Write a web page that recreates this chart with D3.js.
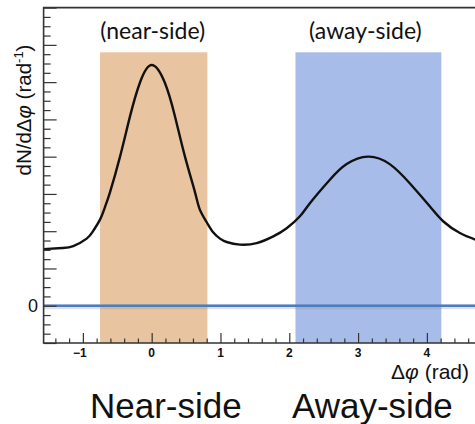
<!DOCTYPE html>
<html>
<head>
<meta charset="utf-8">
<script src="https://cdn.jsdelivr.net/npm/d3@7"></script>
<style>
  html, body { margin: 0; padding: 0; background: #fff; }
  svg { display: block; }
</style>
</head>
<body>
<svg id="chart" width="475" height="424"></svg>
<script>
// Azimuthal correlation: Δφ in rad, dN/dΔφ in arbitrary units
const phiValues   = [-1.571, -1.30, -1.14, -0.945, -0.849, -0.751, -0.68, -0.605, -0.46, -0.315, -0.17, 0.0, 0.19, 0.339, 0.484, 0.629, 0.70, 0.80, 0.89, 0.993, 1.09, 1.283, 1.526, 1.767, 1.962, 2.155, 2.30, 2.59, 2.834, 3.142, 3.46, 3.754, 4.045, 4.24, 4.48, 4.712];
const yieldValues = [1.52, 1.55, 1.60, 1.80, 2.01, 2.31, 2.64, 3.05, 4.00, 5.08, 5.99, 6.46, 5.99, 5.08, 4.00, 3.05, 2.58, 2.24, 1.98, 1.80, 1.71, 1.64, 1.68, 1.86, 2.08, 2.40, 2.75, 3.38, 3.80, 4.00, 3.80, 3.28, 2.66, 2.26, 1.95, 1.77];

// Integration windows
const regionNames  = ["(near-side)", "(away-side)"];
const regionLow    = [-0.75, 2.09];
const regionHigh   = [0.81, 4.21];
const regionTop    = 6.8;
const regionColors = ["#e9c4a1", "#a8bcea"];

// Axis ticks
const xTickLabels = [-1, 0, 1, 2, 3, 4];
const yTickLabels = [0];
const xDomain = [-Math.PI / 2, 3 * Math.PI / 2];
const yDomain = [-1, 8];

const svg = d3.select("#chart");
const padL = 43.6, padR = 475.9, padT = 7.6, padB = 343;

const x = d3.scaleLinear().domain(xDomain).range([padL, padR]);
const y = d3.scaleLinear().domain(yDomain).range([padB, padT]);

// shaded windows
svg.append("g").selectAll("rect")
  .data(regionLow)
  .join("rect")
  .attr("x", (d) => x(d))
  .attr("y", y(regionTop))
  .attr("width", (d, i) => x(regionHigh[i]) - x(d))
  .attr("height", (d) => y(yDomain[0]) - y(regionTop))
  .attr("fill", (d, i) => regionColors[i]);

svg.append("g").selectAll("text")
  .data(regionNames)
  .join("text")
  .attr("x", (d, i) => (x(regionLow[i]) + x(regionHigh[i])) / 2 + (i === 0 ? -1 : -3))
  .attr("y", 39)
  .attr("text-anchor", "middle")
  .attr("font-family", "Lato, 'Open Sans', sans-serif")
  .attr("font-size", 23)
  .attr("fill", "#111")
  .text((d) => d);

// zero baseline
svg.append("line")
  .attr("x1", x(xDomain[0])).attr("x2", x(xDomain[1]))
  .attr("y1", y(0) + 1).attr("y2", y(0) + 1)
  .attr("stroke", "#888").attr("stroke-opacity", 0.25).attr("stroke-width", 5);
svg.append("line")
  .attr("x1", x(xDomain[0])).attr("x2", x(xDomain[1]))
  .attr("y1", y(0)).attr("y2", y(0))
  .attr("stroke", "#4a7ec4").attr("stroke-width", 2.4);

// correlation curve
const pts = phiValues.map((p, i) => [p, yieldValues[i]]);
svg.append("path")
  .datum(pts)
  .attr("fill", "none")
  .attr("stroke", "#111")
  .attr("stroke-width", 2.4)
  .attr("d", d3.line().x((d) => x(d[0])).y((d) => y(d[1])).curve(d3.curveNatural));

// axes (ROOT-style inward ticks)
const xMinor = d3.range(-1.4, 4.71, 0.2).map((v) => +v.toFixed(2)).filter((v) => Math.abs(v - Math.round(v)) > 1e-6);
const xAxisMajor = d3.axisTop(x).tickValues(xTickLabels).tickSize(10).tickFormat("");
const xAxisMinor = d3.axisTop(x).tickValues(xMinor).tickSize(4.5).tickFormat("");
const gxM = svg.append("g").attr("transform", `translate(0,${padB})`).call(xAxisMajor);
const gxm = svg.append("g").attr("transform", `translate(0,${padB})`).call(xAxisMinor);

const yMajorVals = d3.range(-1, 9, 1);
const yMinorVals = d3.range(-1, 8.01, 0.25).filter((v) => Math.abs(v - Math.round(v)) > 1e-6);
const gyM = svg.append("g").attr("transform", `translate(${padL},0)`).call(d3.axisRight(y).tickValues(yMajorVals).tickSize(13).tickFormat(""));
const gym = svg.append("g").attr("transform", `translate(${padL},0)`).call(d3.axisRight(y).tickValues(yMinorVals).tickSize(7).tickFormat(""));

[gxM, gxm, gyM, gym].forEach((g) => {
  g.select(".domain").remove();
  g.selectAll(".tick line").attr("stroke", "#333").attr("stroke-width", 1.2);
});

// frame lines
svg.append("path")
  .attr("d", `M${padR},${padT}H${padL}V${padB}H${padR}`)
  .attr("fill", "none").attr("stroke", "#333").attr("stroke-width", 1.6);

// tick labels
svg.append("g").selectAll("text")
  .data(xTickLabels)
  .join("text")
  .attr("x", (d) => x(d) + (d < 0 ? -3 : 0))
  .attr("y", 357)
  .attr("text-anchor", "middle")
  .attr("font-family", "'Liberation Sans', Arial, sans-serif")
  .attr("font-weight", "bold")
  .attr("font-size", 12)
  .attr("fill", "#111")
  .text((d) => d < 0 ? "\u2212" + Math.abs(d) : d);

svg.append("g").selectAll("text")
  .data(yTickLabels)
  .join("text")
  .attr("x", 38)
  .attr("y", y(0) + 6.5)
  .attr("text-anchor", "end")
  .attr("font-family", "'Liberation Sans', Arial, sans-serif")
  .attr("font-size", 18)
  .attr("fill", "#111")
  .text((d) => d);

// axis titles
const xt = svg.append("text")
  .attr("x", 469).attr("y", 379)
  .attr("text-anchor", "end")
  .attr("font-family", "'Liberation Sans', Arial, sans-serif")
  .attr("font-size", 21)
  .attr("fill", "#111");
xt.append("tspan").text("\u0394");
xt.append("tspan").attr("font-style", "italic").text("\u03c6");
xt.append("tspan").text(" (rad)");

const yt = svg.append("text")
  .attr("transform", "translate(31,110) rotate(-90)")
  .attr("text-anchor", "middle")
  .attr("font-family", "'Liberation Sans', Arial, sans-serif")
  .attr("font-size", 20.5)
  .attr("fill", "#111");
yt.append("tspan").text("dN/d\u0394");
yt.append("tspan").attr("font-style", "italic").text("\u03c6");
yt.append("tspan").text(" (rad");
yt.append("tspan").attr("font-size", 13).attr("dy", -8).text("-1");
yt.append("tspan").attr("dy", 8).text(")");

// region captions
svg.append("g").selectAll("text")
  .data(["Near-side", "Away-side"])
  .join("text")
  .attr("x", (d, i) => i === 0 ? 90 : 292)
  .attr("y", 418)
  .attr("font-family", "'Liberation Sans', Arial, sans-serif")
  .attr("font-size", 35)
  .attr("fill", "#111")
  .text((d) => d);
</script>
</body>
</html>
